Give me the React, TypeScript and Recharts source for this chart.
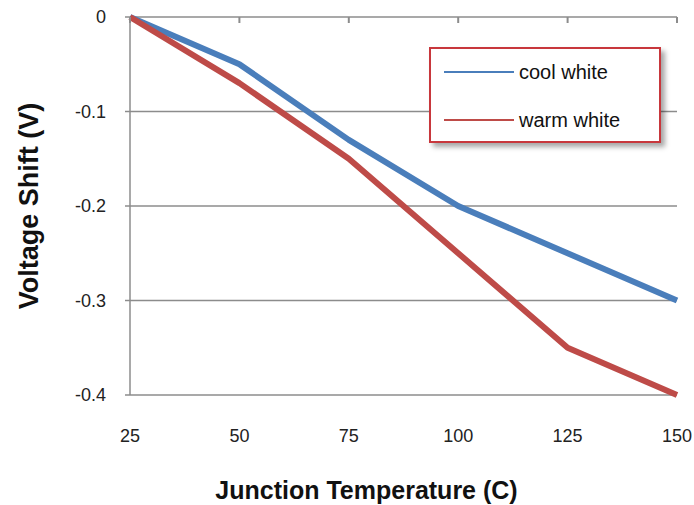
import React from 'react';
import { LineChart, Line, XAxis, YAxis, CartesianGrid, Legend } from 'recharts';

const TEMPS = [25, 50, 75, 100, 125, 150];
const COOL_WHITE = [0, -0.05, -0.13, -0.2, -0.25, -0.3];
const WARM_WHITE = [0, -0.07, -0.15, -0.25, -0.35, -0.4];
const Y_TICKS = [0, -0.1, -0.2, -0.3, -0.4];

const data = TEMPS.map((t, i) => ({ temp: t, cool: COOL_WHITE[i], warm: WARM_WHITE[i] }));

const FONT = 'Arial, "Liberation Sans", sans-serif';
const GRID = '#8c8c8c';
const BLUE = '#4a7ebb';
const RED = '#be4b48';

const LegendBox = () => (
  <div
    style={{
      width: 232,
      height: 96,
      border: '2px solid #c8373c',
      background: '#fff',
      boxShadow: '4px 4px 5px rgba(0,0,0,0.35)',
      fontFamily: FONT,
      fontSize: 20,
      color: '#111',
      boxSizing: 'border-box',
      paddingTop: 11,
    }}
  >
    {[{ name: 'cool white', c: BLUE }, { name: 'warm white', c: RED }].map((it) => (
      <div key={it.name} style={{ display: 'flex', alignItems: 'center', height: 24, marginBottom: 24 }}>
        <span style={{ display: 'inline-block', width: 70, height: 2, background: it.c, marginLeft: 13, marginRight: 5 }} />
        <span>{it.name}</span>
      </div>
    ))}
  </div>
);

export default function App() {
  return (
    <div style={{ position: 'absolute', left: 0, top: 0, width: 694, height: 505, background: '#fff' }}>
      <LineChart width={694} height={505} data={data} margin={{ top: 16, right: 17, left: 0, bottom: 0 }}>
        <CartesianGrid vertical={false} stroke={GRID} strokeWidth={1.5} />
        <XAxis
          dataKey="temp"
          type="number"
          domain={[25, 150]}
          ticks={TEMPS}
          height={110}
          axisLine={false}
          tickLine={false}
          tickMargin={28}
          tick={{ fill: '#222', fontSize: 18, fontFamily: FONT }}
          label={{ value: 'Junction Temperature (C)', position: 'center', dx: -37, dy: 40, fill: '#111', fontSize: 25, fontWeight: 'bold', fontFamily: FONT }}
        />
        <XAxis
          xAxisId="top"
          dataKey="temp"
          type="number"
          domain={[25, 150]}
          ticks={TEMPS}
          orientation="top"
          height={1}
          axisLine={false}
          tickSize={-6}
          tickLine={{ stroke: GRID, strokeWidth: 2 }}
          tick={{ fill: 'none', fontSize: 1 }}
        />
        <YAxis
          type="number"
          domain={[-0.4, 0]}
          ticks={Y_TICKS}
          width={130}
          axisLine={{ stroke: GRID, strokeWidth: 1.5 }}
          tickLine={{ stroke: GRID, strokeWidth: 1.5 }}
          tickSize={5}
          tickMargin={19}
          tick={{ fill: '#222', fontSize: 18, fontFamily: FONT }}
          label={{ value: 'Voltage Shift (V)', angle: -90, position: 'center', dx: -37, fill: '#111', fontSize: 27, fontWeight: 'bold', fontFamily: FONT }}
        />
        <Legend
          layout="vertical"
          align="center"
          verticalAlign="middle"
          content={() => <LegendBox />}
          wrapperStyle={{ position: 'absolute', left: 429, top: 47, width: 232, height: 96 }}
        />
        <Line type="linear" dataKey="cool" stroke={BLUE} strokeWidth={6} strokeLinejoin="round" dot={false} isAnimationActive={false} />
        <Line type="linear" dataKey="warm" stroke={RED} strokeWidth={6} strokeLinejoin="round" dot={false} isAnimationActive={false} />
      </LineChart>
    </div>
  );
}
